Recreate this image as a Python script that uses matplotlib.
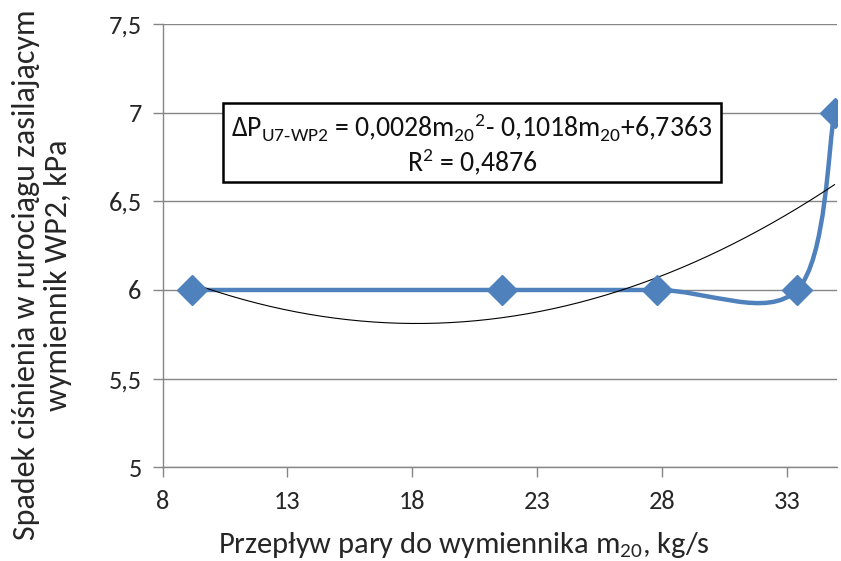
import numpy as np
import matplotlib
matplotlib.use("Agg")
import matplotlib.pyplot as plt
from matplotlib.path import Path
from matplotlib.patches import PathPatch, Rectangle
from matplotlib.ticker import FuncFormatter

# Data
flow = [9.2, 21.6, 27.8, 33.4, 34.9]
dp = [6.0, 6.0, 6.0, 6.0, 7.0]
trend_coef = [0.0028, -0.1018, 6.7363]
r2_label = "0,4876"
x_ticks = [8, 13, 18, 23, 28, 33]
y_ticks = [5, 5.5, 6, 6.5, 7, 7.5]
xlabel = "Przepływ pary do wymiennika m$_{\\mathregular{20}}$, kg/s"
ylabel = "Spadek ciśnienia w rurociągu zasilającym\nwymiennik WP2, kPa"

FONT = ['Carlito', 'Lato', 'DejaVu Sans']
plt.rcParams['font.family'] = FONT
plt.rcParams['mathtext.fontset'] = 'custom'
plt.rcParams['mathtext.rm'] = 'Lato'
plt.rcParams['mathtext.it'] = 'Lato'

BLUE = '#4F81BD'
GRID = '#868686'
TXT = '#262626'

fig = plt.figure(figsize=(8.41, 5.61), dpi=100)
ax = fig.add_axes([162.5/841, 1 - 467.3/561, (837 - 162.5)/841, (467.3 - 24)/561])

ax.set_xlim(8, 35)
ax.set_ylim(5, 7.5)
ax.set_xticks(x_ticks)
ax.set_yticks(y_ticks)
fmt = FuncFormatter(lambda v, p: ('%g' % v).replace('.', ','))
ax.xaxis.set_major_formatter(fmt)
ax.yaxis.set_major_formatter(fmt)
ax.tick_params(axis='both', direction='out', length=7, width=1, color=GRID,
               labelsize=19, labelcolor=TXT)
ax.tick_params(axis='x', pad=9)
ax.tick_params(axis='y', pad=8)
ax.grid(axis='y', color=GRID, linewidth=1)
ax.set_axisbelow(True)
for s in ['top', 'right']:
    ax.spines[s].set_visible(False)
for s in ['left', 'bottom']:
    ax.spines[s].set_color(GRID)
    ax.spines[s].set_linewidth(1)

# Smoothed line (Excel-like Catmull-Rom Bezier)
pts = np.column_stack([flow, dp])
n = len(pts)
verts = [tuple(pts[0])]
codes = [Path.MOVETO]
for i in range(n - 1):
    p0 = pts[i - 1] if i > 0 else pts[i]
    p1 = pts[i]
    p2 = pts[i + 1]
    p3 = pts[i + 2] if i + 2 < n else pts[i + 1]
    c1 = p1 + (p2 - p0) / 6.0
    c2 = p2 - (p3 - p1) / 6.0
    verts += [tuple(c1), tuple(c2), tuple(p2)]
    codes += [Path.CURVE4] * 3
ax.add_patch(PathPatch(Path(verts, codes), facecolor='none', edgecolor=BLUE,
                       linewidth=3.2, capstyle='round', joinstyle='round', zorder=3))
ax.plot(flow, dp, linestyle='none', marker='D', markersize=15, color=BLUE, zorder=4)

# Trendline
xt = np.linspace(min(flow), max(flow), 300)
ax.plot(xt, np.polyval(trend_coef, xt), color='black', linewidth=0.8, zorder=3.5)

# Equation box
fig.add_artist(Rectangle((223/841, 1 - 182/561), (721 - 223)/841, (182 - 103)/561,
                         transform=fig.transFigure, facecolor='white',
                         edgecolor='black', linewidth=1.8, zorder=5))
eq = ("ΔP$_{\\mathregular{U7\u2010WP2}}$ = 0,0028m$_{\\mathregular{20}}$$^{\\mathregular{2}}$- 0,1018m$_{\\mathregular{20}}$+6,7363")
fig.text(472/841, 1 - 128/561, eq, ha='center', va='center', fontsize=20,
         color='#111111', zorder=6)
fig.text(472/841, 1 - 162/561, "R$^{\\mathregular{2}}$ = " + r2_label, ha='center',
         va='center', fontsize=20, color='#111111', zorder=6)

# Axis titles
fig.text(464/841, 1 - 553/561, xlabel, fontsize=22, color=TXT,
         ha='center', va='baseline')
fig.text(42/841, 1 - 275/561, ylabel, fontsize=23, color=TXT, rotation=90,
         ha='center', va='center', multialignment='center', linespacing=1.15)

fig.savefig('out.png', dpi=100)
